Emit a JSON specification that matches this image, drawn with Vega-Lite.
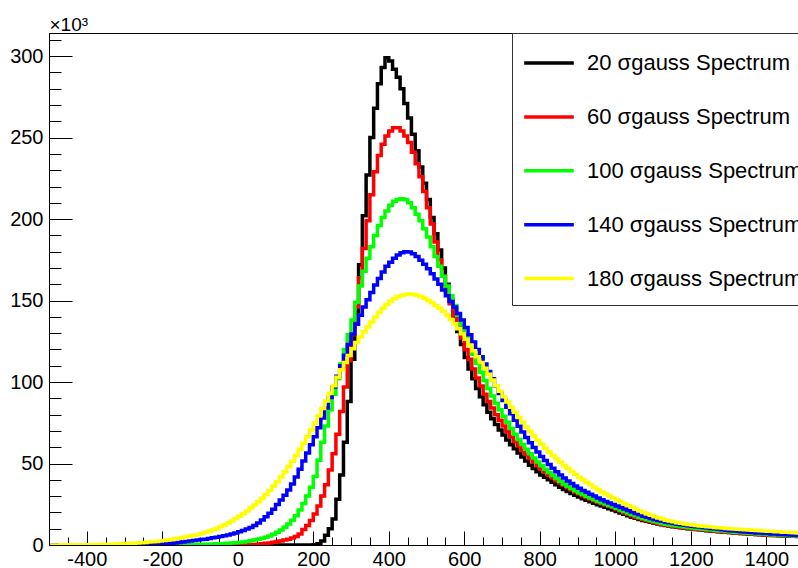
{
"$schema": "https://vega.github.io/schema/vega-lite/v6.json",
"width": 749, "height": 512,
"autosize": {"type": "none"},
"padding": {"left": 49, "top": 33, "right": 0, "bottom": 23},
"background": "white",
"config": {"view": {"stroke": "black", "strokeWidth": 1}, "font": "Liberation Sans"},
"data": {"values": [
{"x":-495,"20":0,"60":0,"100":0,"140":0,"180":0.05},
{"x":-485,"20":0,"60":0,"100":0,"140":0,"180":0.05},
{"x":-475,"20":0,"60":0,"100":0,"140":0,"180":0.05},
{"x":-465,"20":0,"60":0,"100":0,"140":0,"180":0.1},
{"x":-455,"20":0,"60":0,"100":0,"140":0,"180":0.1},
{"x":-445,"20":0,"60":0,"100":0,"140":0,"180":0.1},
{"x":-435,"20":0,"60":0,"100":0,"140":0,"180":0.1},
{"x":-425,"20":0,"60":0,"100":0,"140":0,"180":0.15},
{"x":-415,"20":0,"60":0,"100":0,"140":0,"180":0.15},
{"x":-405,"20":0,"60":0,"100":0,"140":0,"180":0.2},
{"x":-395,"20":0,"60":0,"100":0,"140":0,"180":0.2},
{"x":-385,"20":0,"60":0,"100":0,"140":0,"180":0.25},
{"x":-375,"20":0,"60":0,"100":0,"140":0,"180":0.3},
{"x":-365,"20":0,"60":0,"100":0,"140":0,"180":0.35},
{"x":-355,"20":0,"60":0,"100":0,"140":0,"180":0.4},
{"x":-345,"20":0,"60":0,"100":0,"140":0,"180":0.45},
{"x":-335,"20":0,"60":0,"100":0,"140":0,"180":0.5},
{"x":-325,"20":0,"60":0,"100":0,"140":0,"180":0.6},
{"x":-315,"20":0,"60":0,"100":0,"140":0,"180":0.7},
{"x":-305,"20":0,"60":0,"100":0,"140":0,"180":0.8},
{"x":-295,"20":0,"60":0,"100":0,"140":0,"180":0.9},
{"x":-285,"20":0,"60":0,"100":0,"140":0,"180":1},
{"x":-275,"20":0,"60":0,"100":0,"140":0,"180":1.1},
{"x":-265,"20":0,"60":0,"100":0,"140":0,"180":1.2},
{"x":-255,"20":0,"60":0,"100":0,"140":0,"180":1.4},
{"x":-245,"20":0,"60":0,"100":0,"140":0.1,"180":1.6},
{"x":-235,"20":0,"60":0,"100":0,"140":0.2,"180":1.8},
{"x":-225,"20":0,"60":0,"100":0,"140":0.3,"180":2},
{"x":-215,"20":0,"60":0,"100":0,"140":0.4,"180":2.2},
{"x":-205,"20":0,"60":0,"100":0,"140":0.5,"180":2.5},
{"x":-195,"20":0,"60":0,"100":0.05,"140":0.7,"180":2.8},
{"x":-185,"20":0,"60":0,"100":0.05,"140":0.9,"180":3.1},
{"x":-175,"20":0,"60":0,"100":0.1,"140":1.1,"180":3.4},
{"x":-165,"20":0,"60":0,"100":0.1,"140":1.3,"180":3.8},
{"x":-155,"20":0,"60":0,"100":0.15,"140":1.5,"180":4.2},
{"x":-145,"20":0,"60":0,"100":0.2,"140":1.8,"180":4.6},
{"x":-135,"20":0,"60":0,"100":0.2,"140":2.1,"180":5},
{"x":-125,"20":0,"60":0,"100":0.25,"140":2.4,"180":5.5},
{"x":-115,"20":0,"60":0,"100":0.3,"140":2.7,"180":6},
{"x":-105,"20":0,"60":0,"100":0.35,"140":3,"180":6.5},
{"x":-95,"20":0,"60":0,"100":0.4,"140":3.3,"180":7.1},
{"x":-85,"20":0,"60":0,"100":0.45,"140":3.6,"180":7.8},
{"x":-75,"20":0,"60":0,"100":0.5,"140":4,"180":8.5},
{"x":-65,"20":0,"60":0,"100":0.6,"140":4.4,"180":9.3},
{"x":-55,"20":0,"60":0,"100":0.7,"140":4.8,"180":10.2},
{"x":-45,"20":0,"60":0,"100":0.8,"140":5.2,"180":11.2},
{"x":-35,"20":0,"60":0,"100":0.9,"140":5.7,"180":12.3},
{"x":-25,"20":0,"60":0,"100":1,"140":6.2,"180":13.5},
{"x":-15,"20":0,"60":0,"100":1.2,"140":6.8,"180":14.8},
{"x":-5,"20":0,"60":0,"100":1.4,"140":7.4,"180":16.2},
{"x":5,"20":0,"60":0.05,"100":1.6,"140":8.1,"180":17.7},
{"x":15,"20":0,"60":0.1,"100":1.9,"140":8.9,"180":19.2},
{"x":25,"20":0,"60":0.15,"100":2.2,"140":9.8,"180":20.9},
{"x":35,"20":0,"60":0.25,"100":2.6,"140":10.8,"180":22.7},
{"x":45,"20":0,"60":0.35,"100":3,"140":12,"180":24.6},
{"x":55,"20":0,"60":0.5,"100":3.5,"140":13.5,"180":26.6},
{"x":65,"20":0,"60":0.7,"100":4.1,"140":15.3,"180":28.7},
{"x":75,"20":0,"60":1,"100":4.8,"140":17.3,"180":31},
{"x":85,"20":0,"60":1.3,"100":5.6,"140":19.5,"180":33.4},
{"x":95,"20":0,"60":1.7,"100":6.6,"140":22,"180":36},
{"x":105,"20":0,"60":2.1,"100":7.8,"140":24.8,"180":38.8},
{"x":115,"20":0,"60":2.5,"100":9.2,"140":27.6,"180":41.7},
{"x":125,"20":0,"60":3,"100":10.9,"140":30.6,"180":44.8},
{"x":135,"20":0,"60":3.6,"100":12.9,"140":33.8,"180":48},
{"x":145,"20":0,"60":4.3,"100":15.2,"140":37.5,"180":51.4},
{"x":155,"20":0,"60":5.2,"100":18,"140":41.8,"180":55},
{"x":165,"20":0,"60":6.8,"100":21.5,"140":46.5,"180":58.7},
{"x":175,"20":0,"60":9.5,"100":25.5,"140":51.5,"180":62.5},
{"x":185,"20":0,"60":12,"100":30,"140":56.5,"180":66.5},
{"x":195,"20":0,"60":15,"100":35.5,"140":61.5,"180":70.5},
{"x":205,"20":0.2,"60":19,"100":42,"140":66.5,"180":74.8},
{"x":215,"20":0.8,"60":24,"100":52,"140":72,"180":79.2},
{"x":225,"20":2.5,"60":30,"100":63,"140":78,"180":83.8},
{"x":235,"20":6,"60":37,"100":73,"140":84,"180":88.4},
{"x":245,"20":10,"60":46,"100":83,"140":90.5,"180":93},
{"x":255,"20":16,"60":56,"100":92.5,"140":97,"180":97.8},
{"x":265,"20":28,"60":68,"100":102,"140":103.5,"180":103},
{"x":275,"20":43,"60":82,"100":111,"140":110,"180":107.5},
{"x":285,"20":63,"60":97,"100":120,"140":116.5,"180":112},
{"x":295,"20":88,"60":113,"100":129,"140":123,"180":116.3},
{"x":305,"20":114,"60":129,"100":138,"140":129.5,"180":120.5},
{"x":315,"20":143,"60":146,"100":149,"140":135.5,"180":124.2},
{"x":325,"20":172,"60":164,"100":159,"140":141,"180":127.6},
{"x":335,"20":202,"60":182,"100":168,"140":146,"180":130.8},
{"x":345,"20":227,"60":199,"100":176,"140":150.5,"180":133.8},
{"x":355,"20":250,"60":215,"100":183,"140":155,"180":136.8},
{"x":365,"20":268,"60":229,"100":190,"140":159.5,"180":139.9},
{"x":375,"20":283,"60":239,"100":196,"140":163.5,"180":142.7},
{"x":385,"20":293,"60":246,"100":201,"140":167.5,"180":145.3},
{"x":395,"20":299,"60":251,"100":205,"140":171,"180":147.6},
{"x":405,"20":297,"60":254,"100":208.5,"140":173.5,"180":149.6},
{"x":415,"20":292,"60":256,"100":211,"140":176,"180":151.2},
{"x":425,"20":287,"60":256,"100":212,"140":178,"180":152.4},
{"x":435,"20":280,"60":254,"100":212.5,"140":179.3,"180":153.3},
{"x":445,"20":271,"60":251,"100":212,"140":180,"180":153.8},
{"x":455,"20":262,"60":247,"100":210,"140":179.8,"180":154},
{"x":465,"20":252,"60":241,"100":207,"140":178.7,"180":153.8},
{"x":475,"20":242,"60":234,"100":203,"140":177,"180":153.3},
{"x":485,"20":232,"60":226,"100":199,"140":174.8,"180":152.5},
{"x":495,"20":222,"60":217,"100":194,"140":172.3,"180":151.4},
{"x":505,"20":212,"60":207,"100":189,"140":169.5,"180":150},
{"x":515,"20":201,"60":197,"100":183,"140":166.5,"180":148.6},
{"x":525,"20":191,"60":186,"100":177,"140":163.3,"180":147},
{"x":535,"20":181,"60":175,"100":171,"140":160,"180":145.5},
{"x":545,"20":170,"60":165,"100":165,"140":156.5,"180":143.5},
{"x":555,"20":160,"60":156,"100":159,"140":153,"180":141},
{"x":565,"20":150,"60":148,"100":153,"140":149.5,"180":138.5},
{"x":575,"20":140,"60":141,"100":147,"140":146,"180":135.7},
{"x":585,"20":131,"60":134,"100":141,"140":142,"180":132.7},
{"x":595,"20":123,"60":127,"100":135,"140":138,"180":129.6},
{"x":605,"20":115,"60":120,"100":129,"140":133.5,"180":126.3},
{"x":615,"20":108,"60":114,"100":123,"140":129,"180":122.8},
{"x":625,"20":102,"60":108,"100":117,"140":124.5,"180":119.2},
{"x":635,"20":96,"60":102.5,"100":111.5,"140":120,"180":115.6},
{"x":645,"20":91,"60":97.5,"100":106,"140":115.5,"180":112},
{"x":655,"20":86,"60":92.5,"100":101,"140":111,"180":108.4},
{"x":665,"20":81.5,"60":88,"100":96,"140":106.5,"180":104.8},
{"x":675,"20":77.5,"60":84,"100":91.5,"140":102,"180":101.3},
{"x":685,"20":74,"60":80,"100":87,"140":97.5,"180":97.8},
{"x":695,"20":70.5,"60":76.5,"100":83,"140":93,"180":94.4},
{"x":705,"20":67.5,"60":73,"100":79,"140":88.7,"180":91},
{"x":715,"20":64.5,"60":69.5,"100":75.3,"140":84.5,"180":87.7},
{"x":725,"20":61.5,"60":66.5,"100":71.5,"140":80.5,"180":84.5},
{"x":735,"20":59,"60":63.5,"100":68,"140":76.6,"180":81.4},
{"x":745,"20":56.5,"60":60.7,"100":64.7,"140":72.9,"180":78.3},
{"x":755,"20":54,"60":58,"100":61.6,"140":69.4,"180":75.3},
{"x":765,"20":51.5,"60":55.5,"100":58.7,"140":66,"180":72.4},
{"x":775,"20":49,"60":53.1,"100":56,"140":62.8,"180":69.6},
{"x":785,"20":47,"60":50.8,"100":53.4,"140":59.8,"180":66.9},
{"x":795,"20":45,"60":48.6,"100":51,"140":57,"180":64.3},
{"x":805,"20":43,"60":46.5,"100":48.7,"140":54.3,"180":61.8},
{"x":815,"20":41.5,"60":44.6,"100":46.5,"140":51.8,"180":59.4},
{"x":825,"20":40,"60":42.8,"100":44.5,"140":49.4,"180":57.1},
{"x":835,"20":38.5,"60":41.1,"100":42.6,"140":47.1,"180":54.9},
{"x":845,"20":37,"60":39.5,"100":40.8,"140":45,"180":52.8},
{"x":855,"20":35.5,"60":38,"100":39.1,"140":43,"180":50.8},
{"x":865,"20":34,"60":36.6,"100":37.5,"140":41.1,"180":48.8},
{"x":875,"20":32.8,"60":35.2,"100":36,"140":39.3,"180":46.9},
{"x":885,"20":31.6,"60":33.9,"100":34.6,"140":37.7,"180":45.1},
{"x":895,"20":30.5,"60":32.6,"100":33.3,"140":36.2,"180":43.3},
{"x":905,"20":29.4,"60":31.4,"100":32.1,"140":34.8,"180":41.6},
{"x":915,"20":28.4,"60":30.3,"100":31,"140":33.5,"180":40},
{"x":925,"20":27.4,"60":29.2,"100":29.9,"140":32.3,"180":38.4},
{"x":935,"20":26.5,"60":28.2,"100":28.9,"140":31.1,"180":36.9},
{"x":945,"20":25.6,"60":27.2,"100":27.9,"140":30,"180":35.4},
{"x":955,"20":24.7,"60":26.3,"100":26.9,"140":28.9,"180":34},
{"x":965,"20":23.9,"60":25.4,"100":26,"140":27.8,"180":32.6},
{"x":975,"20":23.1,"60":24.6,"100":25.1,"140":26.7,"180":31.3},
{"x":985,"20":22.3,"60":23.8,"100":24.2,"140":25.7,"180":30},
{"x":995,"20":21.5,"60":23,"100":23.4,"140":24.8,"180":28.8},
{"x":1005,"20":20.6,"60":21.8,"100":22.5,"140":23.9,"180":27.6},
{"x":1015,"20":19.7,"60":20.8,"100":21.5,"140":23,"180":26.4},
{"x":1025,"20":18.8,"60":19.8,"100":20.5,"140":22.1,"180":25.3},
{"x":1035,"20":17.9,"60":18.8,"100":19.6,"140":21.2,"180":24.2},
{"x":1045,"20":17.1,"60":17.9,"100":18.7,"140":20.3,"180":23.1},
{"x":1055,"20":16.4,"60":17.1,"100":17.9,"140":19.4,"180":22},
{"x":1065,"20":15.7,"60":16.3,"100":17.1,"140":18.5,"180":20.9},
{"x":1075,"20":15.1,"60":15.6,"100":16.3,"140":17.7,"180":19.9},
{"x":1085,"20":14.5,"60":14.9,"100":15.6,"140":17,"180":19},
{"x":1095,"20":13.9,"60":14.3,"100":15,"140":16.3,"180":18.2},
{"x":1105,"20":13.4,"60":13.7,"100":14.4,"140":15.6,"180":17.4},
{"x":1115,"20":12.9,"60":13.1,"100":13.8,"140":15,"180":16.6},
{"x":1125,"20":12.4,"60":12.6,"100":13.2,"140":14.5,"180":15.9},
{"x":1135,"20":11.9,"60":12.1,"100":12.7,"140":14,"180":15.2},
{"x":1145,"20":11.5,"60":11.7,"100":12.3,"140":13.6,"180":14.7},
{"x":1155,"20":11.2,"60":11.3,"100":11.9,"140":13.2,"180":14.2},
{"x":1165,"20":10.9,"60":11,"100":11.6,"140":12.8,"180":13.7},
{"x":1175,"20":10.6,"60":10.7,"100":11.3,"140":12.5,"180":13.3},
{"x":1185,"20":10.3,"60":10.4,"100":11,"140":12.1,"180":12.9},
{"x":1195,"20":10,"60":10.1,"100":10.7,"140":11.8,"180":12.6},
{"x":1205,"20":9.8,"60":9.9,"100":10.4,"140":11.5,"180":12.3},
{"x":1215,"20":9.5,"60":9.6,"100":10.2,"140":11.2,"180":12},
{"x":1225,"20":9.3,"60":9.4,"100":10,"140":11,"180":11.7},
{"x":1235,"20":9.1,"60":9.2,"100":9.7,"140":10.7,"180":11.5},
{"x":1245,"20":8.8,"60":8.9,"100":9.5,"140":10.4,"180":11.2},
{"x":1255,"20":8.6,"60":8.7,"100":9.3,"140":10.1,"180":11},
{"x":1265,"20":8.4,"60":8.5,"100":9,"140":9.9,"180":10.8},
{"x":1275,"20":8.2,"60":8.3,"100":8.8,"140":9.6,"180":10.6},
{"x":1285,"20":8,"60":8.1,"100":8.6,"140":9.3,"180":10.4},
{"x":1295,"20":7.8,"60":7.9,"100":8.4,"140":9.1,"180":10.2},
{"x":1305,"20":7.6,"60":7.7,"100":8.1,"140":8.8,"180":10},
{"x":1315,"20":7.4,"60":7.5,"100":7.9,"140":8.6,"180":9.8},
{"x":1325,"20":7.2,"60":7.3,"100":7.7,"140":8.4,"180":9.6},
{"x":1335,"20":7,"60":7.1,"100":7.6,"140":8.2,"180":9.5},
{"x":1345,"20":6.9,"60":7,"100":7.4,"140":8,"180":9.3},
{"x":1355,"20":6.7,"60":6.8,"100":7.2,"140":7.8,"180":9.2},
{"x":1365,"20":6.6,"60":6.7,"100":7,"140":7.6,"180":9},
{"x":1375,"20":6.4,"60":6.5,"100":6.9,"140":7.4,"180":8.9},
{"x":1385,"20":6.3,"60":6.4,"100":6.7,"140":7.3,"180":8.8},
{"x":1395,"20":6.1,"60":6.2,"100":6.6,"140":7.1,"180":8.6},
{"x":1405,"20":6,"60":6.1,"100":6.5,"140":7,"180":8.5},
{"x":1415,"20":5.9,"60":6,"100":6.3,"140":6.8,"180":8.4},
{"x":1425,"20":5.8,"60":5.9,"100":6.2,"140":6.7,"180":8.2},
{"x":1435,"20":5.7,"60":5.8,"100":6.1,"140":6.5,"180":8.1},
{"x":1445,"20":5.6,"60":5.7,"100":5.9,"140":6.4,"180":7.9},
{"x":1455,"20":5.5,"60":5.6,"100":5.8,"140":6.3,"180":7.8},
{"x":1465,"20":5.4,"60":5.5,"100":5.7,"140":6.1,"180":7.6},
{"x":1475,"20":5.3,"60":5.4,"100":5.6,"140":6,"180":7.5},
{"x":1485,"20":5.2,"60":5.3,"100":5.5,"140":5.9,"180":7.3},
{"x":1495,"20":5.1,"60":5.2,"100":5.4,"140":5.8,"180":7.2}
]},
"transform": [{"fold": ["20", "60", "100", "140", "180"], "as": ["sigma", "count"]}],
"mark": {"type": "line", "interpolate": "step", "strokeWidth": 3.5, "clip": true},
"encoding": {
  "x": {"field": "x", "type": "quantitative",
    "scale": {"domain": [-500, 1484], "nice": false, "zero": false},
    "axis": {"title": null, "grid": false,
      "values": [-450,-400,-350,-300,-250,-200,-150,-100,-50,0,50,100,150,200,250,300,350,400,450,500,550,600,650,700,750,800,850,900,950,1000,1050,1100,1150,1200,1250,1300,1350,1400,1450],
      "labelExpr": "datum.value % 200 === 0 ? '' + datum.value : ''",
      "tickSize": {"condition": {"test": "datum.value % 200 === 0", "value": -14}, "value": -8},
      "labelFontSize": 20, "labelColor": "black", "labelFont": "Liberation Sans",
      "labelPadding": 18, "labelOverlap": false, "labelFlush": false, "labelBound": false,
      "domainColor": "black", "tickColor": "black", "tickWidth": 1}},
  "y": {"field": "count", "type": "quantitative",
    "scale": {"domain": [0, 314.2], "nice": false},
    "axis": {"grid": false,
      "values": [0,10,20,30,40,50,60,70,80,90,100,110,120,130,140,150,160,170,180,190,200,210,220,230,240,250,260,270,280,290,300,310],
      "labelExpr": "datum.value % 50 === 0 ? '' + datum.value : ''",
      "tickSize": {"condition": {"test": "datum.value % 50 === 0", "value": -23}, "value": -12},
      "labelFontSize": 20, "labelColor": "black", "labelFont": "Liberation Sans",
      "labelPadding": 29, "labelOverlap": false, "labelFlush": false, "labelBound": false,
      "domainColor": "black", "tickColor": "black", "tickWidth": 1,
      "title": "×10³", "titleAngle": 0, "titleAlign": "left", "titleBaseline": "alphabetic",
      "titleX": 0, "titleY": -3, "titleFontSize": 19, "titleFontWeight": "normal",
      "titleColor": "black", "titleFont": "Liberation Sans"}},
  "color": {"field": "sigma", "type": "nominal",
    "scale": {"domain": ["20", "60", "100", "140", "180"], "range": ["#000000", "#ff0000", "#00ff00", "#0000ff", "#ffff00"]},
    "legend": {"orient": "none", "legendX": 463, "legendY": 0, "direction": "vertical",
      "title": " ", "titleOrient": "bottom", "titleFontSize": 8, "titlePadding": 4,
      "symbolType": "stroke", "symbolSize": 2460, "symbolStrokeWidth": 3.5,
      "labelExpr": "datum.label + ' σgauss Spectrum'",
      "labelFontSize": 22, "labelFont": "Liberation Sans", "labelColor": "black", "labelLimit": 500,
      "strokeColor": "#333333", "fillColor": "white", "padding": 3, "rowPadding": 15.9,
      "symbolOffset": 7, "labelOffset": 11}}
}
}
